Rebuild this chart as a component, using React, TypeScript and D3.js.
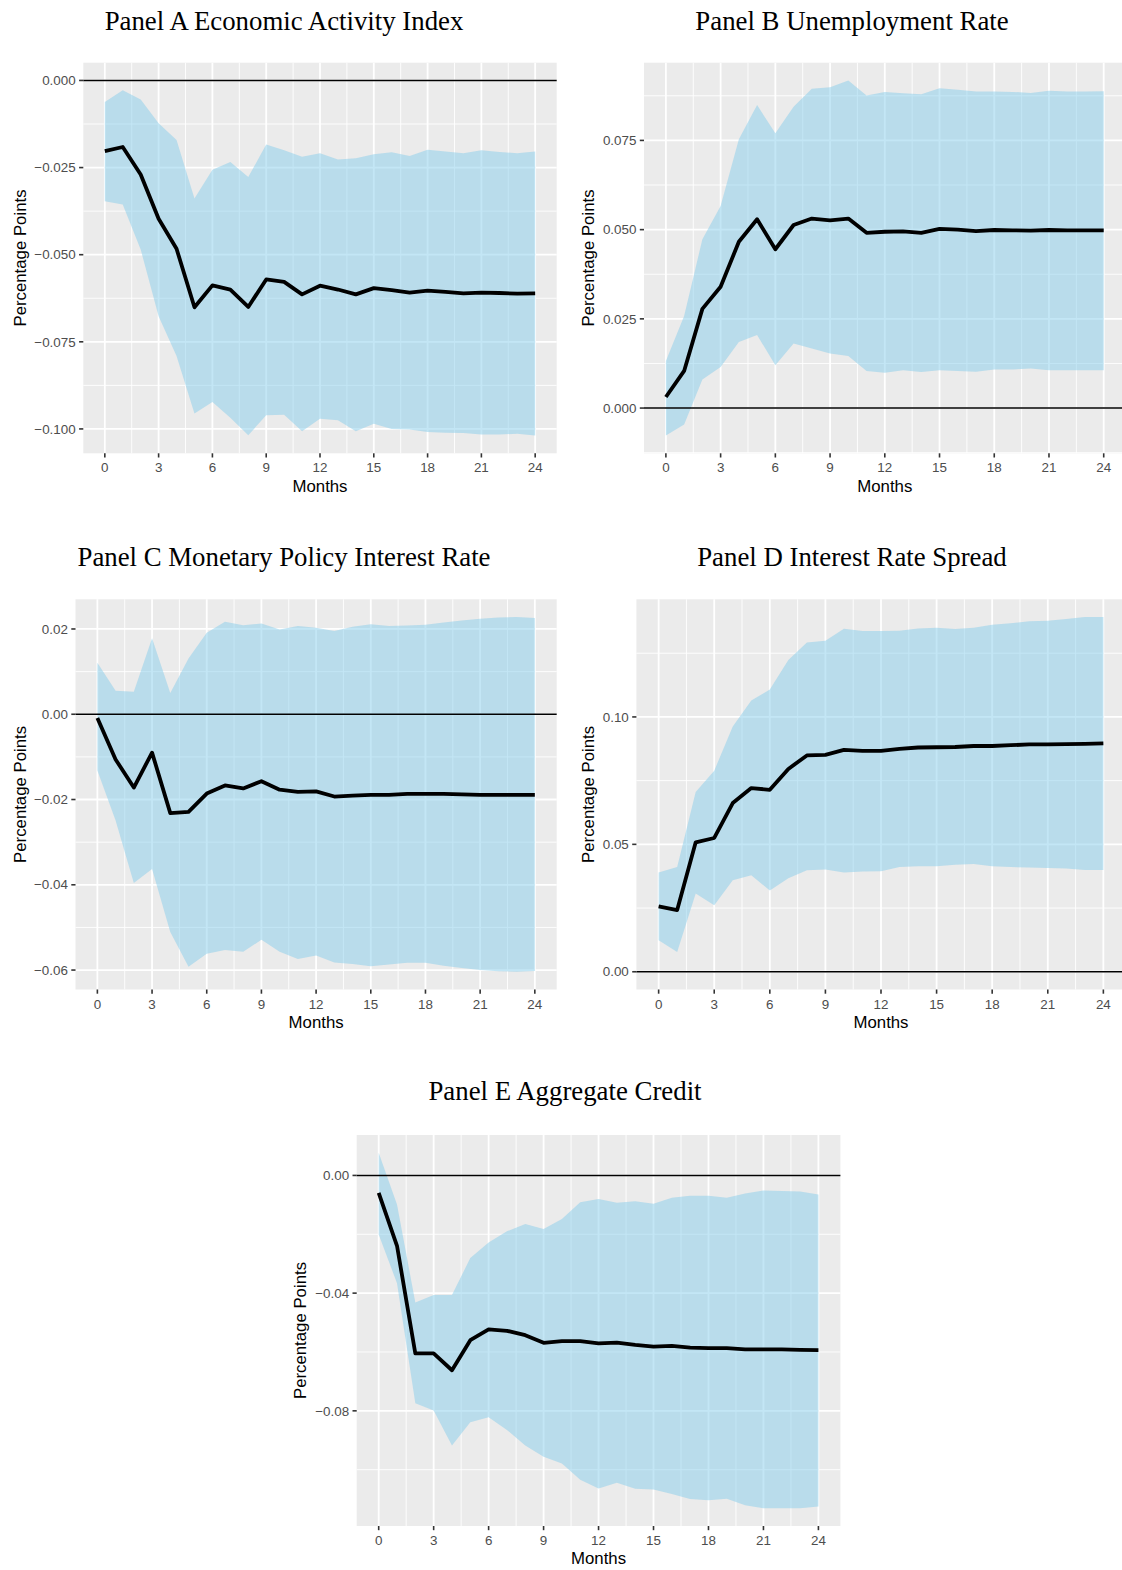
import React from "react";
import * as d3 from "d3";

// ---------- data ----------
const months = [0, 1, 2, 3, 4, 5, 6, 7, 8, 9, 10, 11, 12, 13, 14, 15, 16, 17, 18, 19, 20, 21, 22, 23, 24];
const xTicks = [0, 3, 6, 9, 12, 15, 18, 21, 24];

const aMean = [-0.0203, -0.0191, -0.027, -0.0397, -0.0483, -0.0651, -0.0588, -0.06, -0.065, -0.0571, -0.0578, -0.0614, -0.0589, -0.06, -0.0614, -0.0596, -0.0602, -0.0609, -0.0603, -0.0607, -0.0611, -0.0609, -0.061, -0.0612, -0.0611];
const aUpper = [-0.0062, -0.0028, -0.0055, -0.0123, -0.0171, -0.0339, -0.0256, -0.0234, -0.0277, -0.0184, -0.02, -0.0219, -0.0209, -0.0227, -0.0223, -0.0212, -0.0206, -0.0217, -0.0199, -0.0204, -0.0209, -0.02, -0.0205, -0.0209, -0.0204];
const aLower = [-0.0347, -0.0356, -0.0485, -0.0677, -0.0791, -0.0956, -0.0923, -0.0968, -0.1018, -0.0961, -0.0959, -0.1007, -0.0971, -0.0975, -0.1007, -0.0985, -0.1, -0.1002, -0.1009, -0.1011, -0.1012, -0.1016, -0.1016, -0.1014, -0.1019];
const aTicks = [0, -0.025, -0.05, -0.075, -0.1];

const bMean = [0.0031, 0.0104, 0.0278, 0.034, 0.0466, 0.0529, 0.0445, 0.0513, 0.0531, 0.0526, 0.0531, 0.0491, 0.0494, 0.0495, 0.0491, 0.0502, 0.05, 0.0496, 0.0499, 0.0498, 0.0497, 0.0499, 0.0498, 0.0498, 0.0498];
const bUpper = [0.0132, 0.0258, 0.0473, 0.0566, 0.0753, 0.0849, 0.077, 0.0844, 0.0895, 0.0899, 0.0918, 0.0876, 0.0886, 0.0882, 0.0879, 0.0896, 0.0892, 0.0887, 0.0887, 0.0886, 0.0883, 0.0889, 0.0887, 0.0887, 0.0888];
const bLower = [-0.0077, -0.0046, 0.008, 0.0115, 0.0185, 0.0205, 0.012, 0.0181, 0.0167, 0.0153, 0.0146, 0.0104, 0.0099, 0.0106, 0.0101, 0.0106, 0.0104, 0.0102, 0.0108, 0.0108, 0.0111, 0.0106, 0.0106, 0.0106, 0.0106];
const bTicks = [0, 0.025, 0.05, 0.075];

const cMean = [-0.0009, -0.0106, -0.0172, -0.009, -0.0232, -0.0229, -0.0186, -0.0167, -0.0174, -0.0157, -0.0177, -0.0182, -0.0181, -0.0193, -0.0191, -0.0189, -0.0189, -0.0187, -0.0187, -0.0187, -0.0188, -0.0189, -0.0189, -0.0189, -0.0189];
const cUpper = [0.0121, 0.0055, 0.0053, 0.0178, 0.005, 0.0131, 0.0191, 0.0217, 0.0209, 0.0213, 0.0199, 0.0207, 0.0203, 0.0195, 0.0205, 0.0211, 0.0207, 0.0208, 0.021, 0.0215, 0.022, 0.0224, 0.0227, 0.0228, 0.0226];
const cLower = [-0.0132, -0.0249, -0.0396, -0.0363, -0.0511, -0.0592, -0.0562, -0.0553, -0.0557, -0.0529, -0.0557, -0.0574, -0.0566, -0.0582, -0.0586, -0.0591, -0.0587, -0.0583, -0.0583, -0.059, -0.0595, -0.06, -0.0603, -0.0604, -0.0602];
const cTicks = [0.02, 0, -0.02, -0.04, -0.06];

const dMean = [0.0257, 0.0242, 0.0508, 0.0525, 0.0662, 0.0721, 0.0714, 0.0796, 0.0849, 0.0851, 0.0871, 0.0867, 0.0867, 0.0875, 0.088, 0.0881, 0.0882, 0.0886, 0.0886, 0.0889, 0.0892, 0.0892, 0.0893, 0.0894, 0.0896];
const dUpper = [0.039, 0.0411, 0.0705, 0.0789, 0.0962, 0.1064, 0.1108, 0.1223, 0.1292, 0.1299, 0.1346, 0.1337, 0.1337, 0.1338, 0.1347, 0.135, 0.1345, 0.135, 0.1362, 0.1368, 0.1375, 0.1377, 0.1384, 0.1392, 0.1392];
const dLower = [0.0124, 0.0078, 0.0307, 0.0261, 0.0359, 0.0379, 0.0319, 0.0367, 0.0398, 0.0401, 0.039, 0.0393, 0.0394, 0.0411, 0.0414, 0.0414, 0.042, 0.0423, 0.0414, 0.0411, 0.0409, 0.0407, 0.0405, 0.0399, 0.0399];
const dTicks = [0, 0.05, 0.1];

const eMean = [-0.0059, -0.0239, -0.0605, -0.0605, -0.0662, -0.056, -0.0523, -0.0528, -0.0543, -0.0569, -0.0563, -0.0563, -0.0571, -0.0568, -0.0576, -0.0582, -0.0579, -0.0585, -0.0587, -0.0587, -0.0591, -0.0591, -0.0591, -0.0593, -0.0594];
const eUpper = [0.0077, -0.0099, -0.0432, -0.0406, -0.0406, -0.0281, -0.0228, -0.019, -0.0165, -0.0182, -0.0148, -0.0091, -0.008, -0.0093, -0.0088, -0.0096, -0.0076, -0.0069, -0.0069, -0.0076, -0.0061, -0.0051, -0.0053, -0.0055, -0.0065];
const eLower = [-0.0201, -0.0366, -0.0774, -0.0799, -0.0918, -0.0839, -0.0822, -0.0865, -0.0918, -0.0956, -0.0979, -0.1034, -0.1064, -0.1044, -0.1065, -0.1067, -0.1083, -0.11, -0.1104, -0.1099, -0.1121, -0.1131, -0.1131, -0.1131, -0.1125];
const eTicks = [0, -0.04, -0.08];

const titles = [
  "Panel A Economic Activity Index",
  "Panel B Unemployment Rate",
  "Panel C Monetary Policy Interest Rate",
  "Panel D Interest Rate Spread",
  "Panel E Aggregate Credit",
];

// ---------- layout ----------
const layouts = [
  { left: 83.3, right: 556.7, top: 62.7, bottom: 453.3, cellLeft: 0, titleX: 284, titleY: 30 },
  { left: 644, right: 1125.6, top: 62.7, bottom: 453.3, cellLeft: 568, titleX: 852, titleY: 30 },
  { left: 75.5, right: 556.7, top: 599.3, bottom: 989.5, cellLeft: 0, titleX: 284, titleY: 566 },
  { left: 636.4, right: 1125.6, top: 599.3, bottom: 989.5, cellLeft: 568, titleX: 852, titleY: 566 },
  { left: 356.7, right: 840.4, top: 1135, bottom: 1526, cellLeft: 280, titleX: 565, titleY: 1100 },
];

const series = [
  { mean: aMean, upper: aUpper, lower: aLower, ticks: aTicks, fmt: ".3f" },
  { mean: bMean, upper: bUpper, lower: bLower, ticks: bTicks, fmt: ".3f" },
  { mean: cMean, upper: cUpper, lower: cLower, ticks: cTicks, fmt: ".2f" },
  { mean: dMean, upper: dUpper, lower: dLower, ticks: dTicks, fmt: ".2f" },
  { mean: eMean, upper: eUpper, lower: eLower, ticks: eTicks, fmt: ".2f" },
];

const SANS = "'Liberation Sans', Arial, Helvetica, sans-serif";
const SERIF = "'Liberation Serif', 'Times New Roman', serif";
const TICK_LEN = 4.2;

function Panel({ idx }: { idx: number }) {
  const L = layouts[idx];
  const S = series[idx];

  const xExt = d3.extent(months) as [number, number];
  const xPad = (xExt[1] - xExt[0]) * 0.05;
  const x = d3.scaleLinear().domain([xExt[0] - xPad, xExt[1] + xPad]).range([L.left, L.right]);

  const yMin = Math.min(d3.min(S.lower)!, 0);
  const yMax = Math.max(d3.max(S.upper)!, 0);
  const yPad = (yMax - yMin) * 0.05;
  const y = d3.scaleLinear().domain([yMin - yPad, yMax + yPad]).range([L.bottom, L.top]);

  const yStep = Math.abs(S.ticks[1] - S.ticks[0]);
  const ySorted = [...S.ticks].sort((a, b) => a - b);
  const yMinor: number[] = [];
  for (let v = ySorted[0] - yStep / 2; v <= ySorted[ySorted.length - 1] + yStep; v += yStep) {
    if (v >= y.domain()[0] && v <= y.domain()[1]) yMinor.push(v);
  }
  const xMinor: number[] = [];
  for (let i = 0; i < xTicks.length - 1; i++) xMinor.push((xTicks[i] + xTicks[i + 1]) / 2);

  const area = d3
    .area<number>()
    .x((d) => x(d))
    .y0((d, i) => y(S.lower[i]))
    .y1((d, i) => y(S.upper[i]));
  const line = d3
    .line<number>()
    .x((d) => x(d))
    .y((d, i) => y(S.mean[i]));
  const fmt = d3.format(S.fmt);

  const midY = (L.top + L.bottom) / 2;
  const midX = (L.left + L.right) / 2;

  return (
    <g>
      <text x={L.titleX} y={L.titleY} textAnchor="middle" fontFamily={SERIF} fontSize={26.8} fill="#000">
        {titles[idx]}
      </text>
      <rect x={L.left} y={L.top} width={L.right - L.left} height={L.bottom - L.top} fill="#EBEBEB" />
      {yMinor.map((v, i) => (
        <line key={"ym" + i} x1={L.left} x2={L.right} y1={y(v)} y2={y(v)} stroke="#fff" strokeWidth={0.9} />
      ))}
      {xMinor.map((v, i) => (
        <line key={"xm" + i} x1={x(v)} x2={x(v)} y1={L.top} y2={L.bottom} stroke="#fff" strokeWidth={0.9} />
      ))}
      {S.ticks.map((v, i) => (
        <line key={"yM" + i} x1={L.left} x2={L.right} y1={y(v)} y2={y(v)} stroke="#fff" strokeWidth={1.8} />
      ))}
      {xTicks.map((v, i) => (
        <line key={"xM" + i} x1={x(v)} x2={x(v)} y1={L.top} y2={L.bottom} stroke="#fff" strokeWidth={1.8} />
      ))}
      <path d={area(months) || ""} fill="#87CEEB" fillOpacity={0.5} />
      <line x1={L.left} x2={L.right} y1={y(0)} y2={y(0)} stroke="#000" strokeWidth={1.6} />
      <path d={line(months) || ""} fill="none" stroke="#000" strokeWidth={3.8} strokeLinejoin="round" />
      {/* axes */}
      {xTicks.map((v, i) => (
        <g key={"xt" + i}>
          <line x1={x(v)} x2={x(v)} y1={L.bottom} y2={L.bottom + TICK_LEN} stroke="#333" strokeWidth={1.6} />
          <text x={x(v)} y={L.bottom + 19} textAnchor="middle" fontFamily={SANS} fontSize={13.4} fill="#4D4D4D">
            {v}
          </text>
        </g>
      ))}
      {S.ticks.map((v, i) => (
        <g key={"yt" + i}>
          <line x1={L.left - TICK_LEN} x2={L.left} y1={y(v)} y2={y(v)} stroke="#333" strokeWidth={1.6} />
          <text x={L.left - 7.6} y={y(v) + 4.7} textAnchor="end" fontFamily={SANS} fontSize={13.4} fill="#4D4D4D">
            {fmt(v)}
          </text>
        </g>
      ))}
      <text x={midX} y={L.bottom + 38.3} textAnchor="middle" fontFamily={SANS} fontSize={16.8} fill="#000">
        Months
      </text>
      <text
        transform={`translate(${L.cellLeft + 25.7},${midY}) rotate(-90)`}
        textAnchor="middle"
        fontFamily={SANS}
        fontSize={16.8}
        fill="#000"
      >
        Percentage Points
      </text>
    </g>
  );
}

export default function App() {
  return (
    <div style={{ position: "absolute", left: 0, top: 0, width: 1122, height: 1570, background: "#fff" }}>
      <svg width={1122} height={1570} style={{ display: "block" }}>
        <rect width={1122} height={1570} fill="#fff" />
        {[0, 1, 2, 3, 4].map((i) => (
          <Panel key={i} idx={i} />
        ))}
      </svg>
    </div>
  );
}
